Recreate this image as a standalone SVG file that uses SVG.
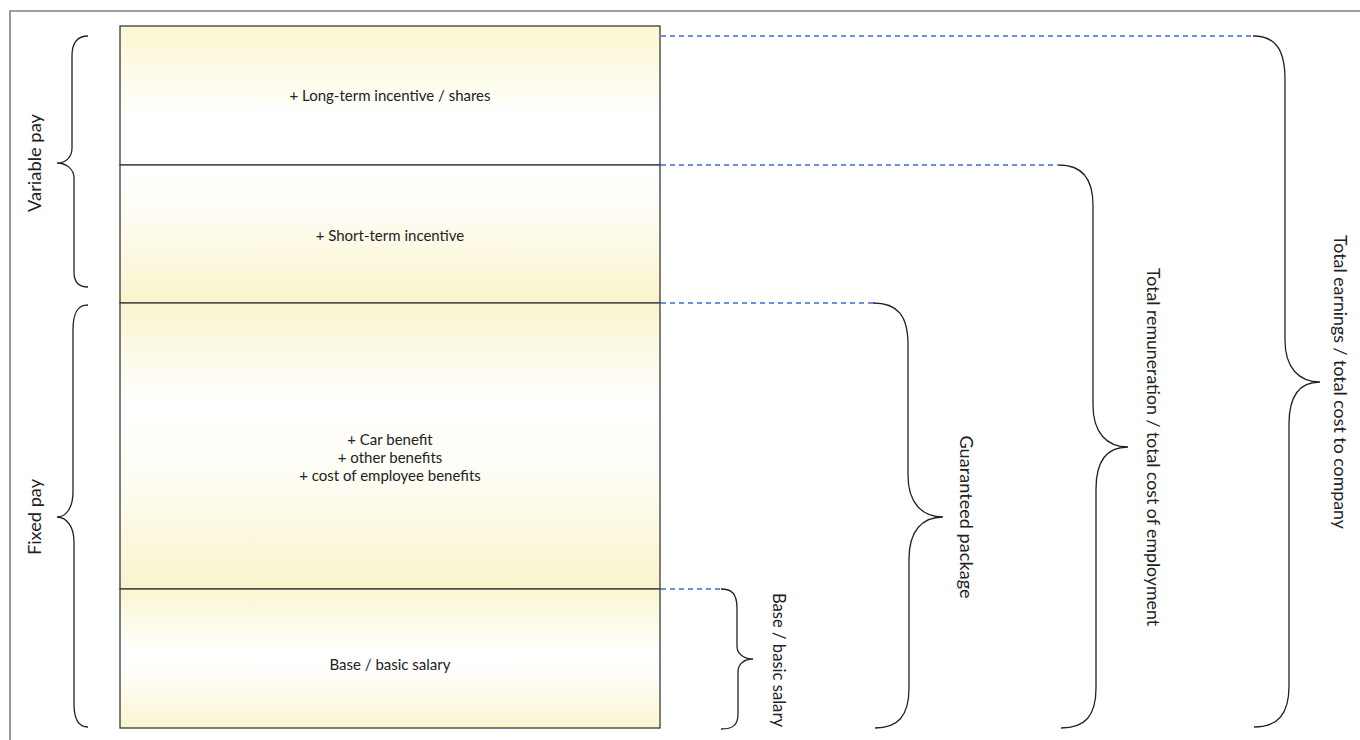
<svg xmlns="http://www.w3.org/2000/svg" width="1360" height="740" viewBox="0 0 1360 740">
  <defs>
    <linearGradient id="g1" x1="0" y1="0" x2="0" y2="1">
      <stop offset="0" stop-color="#fbf7d0"/>
      <stop offset="0.65" stop-color="#ffffff"/>
      <stop offset="1" stop-color="#ffffff"/>
    </linearGradient>
    <linearGradient id="g2" x1="0" y1="0" x2="0" y2="1">
      <stop offset="0" stop-color="#ffffff"/>
      <stop offset="0.3" stop-color="#fefdf6"/>
      <stop offset="1" stop-color="#faf4cc"/>
    </linearGradient>
    <linearGradient id="g3" x1="0" y1="0" x2="0" y2="1">
      <stop offset="0" stop-color="#f9f5d0"/>
      <stop offset="0.35" stop-color="#ffffff"/>
      <stop offset="0.6" stop-color="#fefdf5"/>
      <stop offset="1" stop-color="#f9f4cd"/>
    </linearGradient>
    <linearGradient id="g4" x1="0" y1="0" x2="0" y2="1">
      <stop offset="0" stop-color="#f9f6d2"/>
      <stop offset="0.45" stop-color="#ffffff"/>
      <stop offset="0.6" stop-color="#fffefb"/>
      <stop offset="1" stop-color="#faf5cf"/>
    </linearGradient>
  </defs>
  <style>
    .cell { stroke: #3a3a3a; stroke-width: 1.3; }
    .lbl { font-family: "Lato", "Liberation Sans", sans-serif; font-size: 15px; fill: #222; text-anchor: middle; }
    .vlbl { font-family: "Lato", "Liberation Sans", sans-serif; font-size: 16.5px; fill: #222; text-anchor: middle; dominant-baseline: central; }
    .brace { fill: none; stroke: #222; stroke-width: 1.3; }
    .dash { stroke: #3d6ae0; stroke-width: 1.3; stroke-dasharray: 5 4; fill: none; }
  </style>
  <rect x="0" y="0" width="1360" height="740" fill="#ffffff"/>
  <path d="M10,742 L10,11 L1362,11" fill="none" stroke="#808080" stroke-width="1.6"/>

  <g id="stack">
    <g id="cell-long-term">
      <rect class="cell" x="120" y="26" width="540" height="139" fill="url(#g1)"/>
      <text class="lbl" x="390" y="101">+ Long-term incentive / shares</text>
    </g>
    <g id="cell-short-term">
      <rect class="cell" x="120" y="165" width="540" height="138" fill="url(#g2)"/>
      <text class="lbl" x="390" y="241">+ Short-term incentive</text>
    </g>
    <g id="cell-benefits">
      <rect class="cell" x="120" y="303" width="540" height="286" fill="url(#g3)"/>
      <text class="lbl" x="390" y="445">+ Car benefit</text>
      <text class="lbl" x="390" y="463">+ other benefits</text>
      <text class="lbl" x="390" y="481">+ cost of employee benefits</text>
    </g>
    <g id="cell-base">
      <rect class="cell" x="120" y="589" width="540" height="139" fill="url(#g4)"/>
      <text class="lbl" x="390" y="670">Base / basic salary</text>
    </g>
  </g>

  <g id="connectors">
    <line class="dash" x1="661" y1="36" x2="1253" y2="36"/>
    <line class="dash" x1="661" y1="165" x2="1059" y2="165"/>
    <line class="dash" x1="661" y1="303" x2="873" y2="303"/>
    <line class="dash" x1="661" y1="589" x2="721" y2="589"/>
  </g>

  <g id="brace-variable">
    <path class="brace" d="M88,36 C78,36 72,42 72,56 L72,148 C72,157 66,163 57,163 C66,163 74,169 74,178 L74,272 C74,282 79,287 88,287"/>
    <text class="vlbl" transform="translate(35,163) rotate(-90)" textLength="98" lengthAdjust="spacingAndGlyphs">Variable pay</text>
  </g>
  <g id="brace-fixed">
    <path class="brace" d="M88,305 C78,305 73,312 73,330 L73,492 C73,508 66,517 57,517 C66,517 74,526 74,542 L74,704 C74,720 79,727 88,727"/>
    <text class="vlbl" transform="translate(35,517) rotate(-90)" textLength="76" lengthAdjust="spacingAndGlyphs">Fixed pay</text>
  </g>
  <g id="brace-base">
    <path class="brace" d="M721,589 C732,589 737,594 737,608 L737,646 C737,654 744,659 753,659 C744,659 738,664 738,672 L738,714 C738,725 733,729 721,729"/>
    <text class="vlbl" transform="translate(779,660) rotate(90)" textLength="134" lengthAdjust="spacingAndGlyphs">Base / basic salary</text>
  </g>
  <g id="brace-guaranteed">
    <path class="brace" d="M873,303 C898,303 908,316 908,345 L908,475 C908,503 922,517 943,517 C922,517 909,531 909,559 L909,688 C909,716 898,728 875,728"/>
    <text class="vlbl" transform="translate(966,517) rotate(90)" textLength="163" lengthAdjust="spacingAndGlyphs">Guaranteed package</text>
  </g>
  <g id="brace-remuneration">
    <path class="brace" d="M1059,165 C1083,165 1093,180 1093,205 L1093,405 C1093,433 1107,447 1128,447 C1107,447 1096,461 1096,489 L1096,688 C1096,716 1085,728 1061,728"/>
    <text class="vlbl" transform="translate(1153,447) rotate(90)" textLength="358" lengthAdjust="spacingAndGlyphs">Total remuneration / total cost of employment</text>
  </g>
  <g id="brace-total">
    <path class="brace" d="M1253,36 C1276,36 1285,50 1285,80 L1285,340 C1285,368 1299,382 1320,382 C1299,382 1289,396 1289,424 L1289,686 C1289,714 1278,727 1254,727"/>
    <text class="vlbl" transform="translate(1340,382) rotate(90)" textLength="294" lengthAdjust="spacingAndGlyphs">Total earnings / total cost to company</text>
  </g>
</svg>
